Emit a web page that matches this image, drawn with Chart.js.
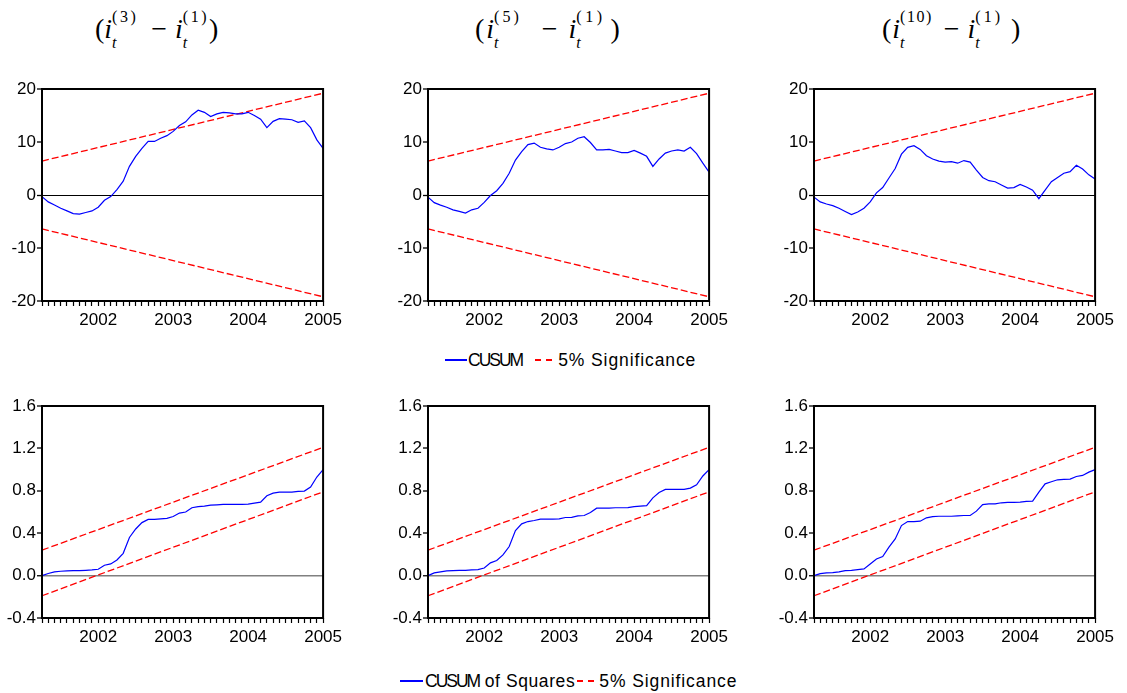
<!DOCTYPE html>
<html>
<head>
<meta charset="utf-8">
<title>CUSUM tests</title>
<script src="https://cdn.jsdelivr.net/npm/chart.js@4.4.1/dist/chart.umd.min.js"></script>
<style>
  html, body { margin: 0; padding: 0; background: #fff; }
  #page { position: relative; width: 1127px; height: 693px; overflow: hidden; background: #fff; }
  .panel { position: absolute; }
  .title {
    position: absolute; text-align: left; white-space: nowrap;
    font-family: "Liberation Serif", "Times New Roman", serif; font-size: 28px; line-height: 30px; color: #000;
  }
  .title i { font-style: italic; }
  .ss { display: inline-block; vertical-align: -10px; font-size: 16px; line-height: 26px; text-align: left; }
  .ss span { display: block; }
  .ss .sb { font-style: italic; letter-spacing: 0; }
  .legend {
    position: absolute; display: flex; align-items: center; white-space: nowrap; height: 20px;
    font-family: "Liberation Sans", Arial, sans-serif; font-size: 17.5px; color: #000;
  }
  .tight { letter-spacing: -2px; }
  .wide { letter-spacing: 0.9px; }
  .smp { display: inline-block; height: 1.3px; }
  .smp.solid { background: #0000ff; }
  .smp.dash { background: repeating-linear-gradient(to right, #ff0000 0 6px, transparent 6px 11px); }
</style>
</head>
<body>
<div id="page">
  <div class="title" style="left:95px; top:4px;">(<i>i</i><span class="ss" style="letter-spacing:2.5px;"><span>(3)</span><span class="sb">t</span></span><span style="margin-left:13px; margin-right:8px;">&minus;</span><i>i</i><span class="ss" style="letter-spacing:2.5px;"><span>(1)</span><span class="sb">t</span></span>)</div>
  <div class="title" style="left:475px; top:4px;">(<i style="margin-left:2px;">i</i><span class="ss" style="letter-spacing:3px;"><span>(5)</span><span class="sb">t</span></span><span style="margin-left:20px; margin-right:11px;">&minus;</span><i>i</i><span class="ss" style="letter-spacing:3.5px;"><span>(1)</span><span class="sb">t</span></span><span style="margin-left:5px;">)</span></div>
  <div class="title" style="left:882px; top:4px;">(<i style="margin-left:1px;">i</i><span class="ss" style="letter-spacing:1.5px;"><span>(10)</span><span class="sb">t</span></span><span style="margin-left:11px; margin-right:8px;">&minus;</span><i>i</i><span class="ss" style="letter-spacing:3px;"><span>(1)</span><span class="sb">t</span></span><span style="margin-left:8px;">)</span></div>

  <div class="panel" id="p0"><canvas></canvas></div>
  <div class="panel" id="p1"><canvas></canvas></div>
  <div class="panel" id="p2"><canvas></canvas></div>
  <div class="panel" id="p3"><canvas></canvas></div>
  <div class="panel" id="p4"><canvas></canvas></div>
  <div class="panel" id="p5"><canvas></canvas></div>

  <div class="legend" style="left:445px; top:350px;">
    <span class="smp solid" style="width:22px; margin-right:1px;"></span><span class="tight">CUSUM</span>
    <span class="smp dash" style="width:17px; margin-left:13px; margin-right:6px;"></span><span class="wide">5% Significance</span>
  </div>
  <div class="legend" style="left:400px; top:671px;">
    <span class="smp solid" style="width:23px; margin-right:2px;"></span><span><span class="tight">CUSUM</span><span style="letter-spacing:0.6px;"> of Squares</span></span>
    <span class="smp dash" style="width:17px; margin-left:2px; margin-right:5px;"></span><span class="wide">5% Significance</span>
  </div>
</div>

<script>
// Monthly observations of the recursive residual statistics
const months = [
  '2001M04','2001M05','2001M06','2001M07','2001M08','2001M09','2001M10','2001M11','2001M12',
  '2002M01','2002M02','2002M03','2002M04','2002M05','2002M06','2002M07','2002M08','2002M09','2002M10','2002M11','2002M12',
  '2003M01','2003M02','2003M03','2003M04','2003M05','2003M06','2003M07','2003M08','2003M09','2003M10','2003M11','2003M12',
  '2004M01','2004M02','2004M03','2004M04','2004M05','2004M06','2004M07','2004M08','2004M09','2004M10','2004M11','2004M12',
  '2005M01'
];

// CUSUM statistics
const cusum3 = [-0.3,-1.3,-1.9,-2.5,-3.0,-3.5,-3.6,-3.3,-3.0,-2.3,-1.0,-0.3,1.0,2.6,5.4,7.3,8.8,10.1,10.1,10.7,11.2,12.0,13.1,13.8,15.1,16.0,15.6,14.8,15.3,15.6,15.5,15.3,15.3,15.6,15.0,14.3,12.7,13.9,14.4,14.3,14.2,13.7,14.0,12.7,10.4,8.8];
const cusum5 = [-0.4,-1.45,-1.9,-2.3,-2.8,-3.1,-3.4,-2.8,-2.5,-1.4,-0.1,0.8,2.2,4.1,6.6,8.2,9.5,9.8,9.0,8.7,8.5,9.0,9.7,10.0,10.7,11.0,9.9,8.5,8.5,8.6,8.3,8.0,8.0,8.4,7.9,7.3,5.4,6.8,7.9,8.3,8.5,8.3,9.0,7.8,6.0,4.3];
const cusum10 = [-0.4,-1.3,-1.7,-2.0,-2.5,-3.1,-3.7,-3.2,-2.5,-1.3,0.4,1.4,3.2,5.0,7.7,9.0,9.3,8.6,7.4,6.8,6.4,6.2,6.3,6.0,6.5,6.2,4.7,3.3,2.7,2.5,1.9,1.3,1.4,2.0,1.5,0.9,-0.7,0.9,2.5,3.3,4.1,4.4,5.6,4.9,3.8,3.0];

// CUSUM of squares statistics
const cusumSq3 = [0,0.02,0.035,0.041,0.044,0.047,0.047,0.05,0.054,0.06,0.098,0.11,0.148,0.21,0.36,0.44,0.50,0.53,0.53,0.535,0.54,0.557,0.59,0.60,0.64,0.65,0.655,0.665,0.668,0.671,0.671,0.671,0.671,0.674,0.683,0.693,0.753,0.778,0.787,0.787,0.787,0.794,0.797,0.835,0.93,1.0];
const cusumSq5 = [0,0.025,0.035,0.044,0.047,0.05,0.05,0.054,0.057,0.072,0.12,0.142,0.195,0.274,0.425,0.488,0.51,0.52,0.532,0.532,0.532,0.535,0.548,0.55,0.564,0.567,0.595,0.636,0.636,0.636,0.64,0.64,0.642,0.65,0.655,0.66,0.734,0.784,0.813,0.813,0.813,0.813,0.825,0.857,0.94,1.0];
const cusumSq10 = [0,0.019,0.025,0.028,0.035,0.047,0.05,0.057,0.063,0.11,0.157,0.18,0.268,0.346,0.472,0.51,0.51,0.513,0.545,0.557,0.56,0.56,0.56,0.564,0.567,0.567,0.608,0.67,0.677,0.677,0.687,0.69,0.69,0.693,0.70,0.702,0.787,0.866,0.885,0.904,0.907,0.91,0.935,0.945,0.976,1.0];

// 5% significance bounds (straight lines between first and last observation)
const boundMonths = ['2001M04', '2005M01'];
const cusumUpper = [6.4, 19.2];
const cusumLower = [-6.4, -19.2];
const sqUpper = [0.24, 1.21];
const sqLower = [-0.19, 0.79];

// Axis tick values
const cusumTicks = [-20, -10, 0, 10, 20];
const sqTicks = [-0.4, 0.0, 0.4, 0.8, 1.2, 1.6];

// Layout of the six plot areas
const colLeft = [42, 428, 814];
const rowTop = [89, 406];
const plotW = 282, plotH = 212;
const Y_W = 40, X_H = 32, PAD_T = 12, PAD_R = 22;

const FONT = { family: '"Liberation Sans", Arial, sans-serif', size: 17 };

const framePlugin = {
  id: 'frame',
  afterDatasetsDraw(chart) {
    const { ctx, chartArea: a } = chart;
    ctx.save();
    ctx.strokeStyle = '#000';
    ctx.lineWidth = 2;
    ctx.strokeRect(a.left, a.top, a.right - a.left, a.bottom - a.top);
    ctx.restore();
  }
};

function boundData(vals) {
  return boundMonths.map((m, k) => ({ x: m, y: vals[k] }));
}

function makePanel(idx, col, row, series, upper, lower, ticks, decimals, zeroColor, zeroWidth) {
  const box = document.getElementById('p' + idx);
  box.style.left = (colLeft[col] - Y_W) + 'px';
  box.style.top = (rowTop[row] - PAD_T) + 'px';
  box.style.width = (Y_W + plotW + PAD_R) + 'px';
  box.style.height = (PAD_T + plotH + X_H) + 'px';

  new Chart(box.querySelector('canvas'), {
    type: 'line',
    data: {
      labels: months,
      datasets: [
        { data: series, borderColor: '#0000ff', borderWidth: 1.2, pointRadius: 0, tension: 0, fill: false },
        { data: boundData(upper), borderColor: '#ff0000', borderWidth: 1.3, borderDash: [7, 3], pointRadius: 0, fill: false },
        { data: boundData(lower), borderColor: '#ff0000', borderWidth: 1.3, borderDash: [7, 3], pointRadius: 0, fill: false }
      ]
    },
    options: {
      responsive: true,
      maintainAspectRatio: false,
      animation: false,
      events: [],
      layout: { padding: { top: PAD_T, right: PAD_R, left: 0, bottom: 0 } },
      plugins: { legend: { display: false }, tooltip: { enabled: false } },
      scales: {
        x: {
          type: 'category',
          offset: false,
          border: { display: false },
          grid: { drawOnChartArea: false, drawTicks: true, tickLength: 5, tickColor: '#000', tickWidth: 1.2 },
          ticks: {
            autoSkip: false, maxRotation: 0, minRotation: 0, padding: 4,
            color: '#000', font: FONT,
            callback: (v, i) => months[i].endsWith('M01') ? months[i].slice(0, 4) : ''
          },
          afterFit: s => { s.height = X_H; }
        },
        y: {
          min: ticks[0],
          max: ticks[ticks.length - 1],
          border: { display: false },
          afterBuildTicks: s => { s.ticks = ticks.map(v => ({ value: v })); },
          grid: {
            drawOnChartArea: true, drawTicks: true, tickLength: 5, tickColor: '#000', tickWidth: 1.3,
            color: c => (c.tick && Math.abs(c.tick.value) < 1e-9) ? zeroColor : 'rgba(0,0,0,0)',
            lineWidth: c => (c.tick && Math.abs(c.tick.value) < 1e-9) ? zeroWidth : 0
          },
          ticks: {
            padding: 1, color: '#000', font: FONT,
            callback: v => Number(v).toFixed(decimals)
          },
          afterFit: s => { s.width = Y_W; }
        }
      }
    },
    plugins: [framePlugin]
  });
}

makePanel(0, 0, 0, cusum3, cusumUpper, cusumLower, cusumTicks, 0, '#000000', 1);
makePanel(1, 1, 0, cusum5, cusumUpper, cusumLower, cusumTicks, 0, '#000000', 1);
makePanel(2, 2, 0, cusum10, cusumUpper, cusumLower, cusumTicks, 0, '#000000', 1);
makePanel(3, 0, 1, cusumSq3, sqUpper, sqLower, sqTicks, 1, '#808080', 1.5);
makePanel(4, 1, 1, cusumSq5, sqUpper, sqLower, sqTicks, 1, '#808080', 1.5);
makePanel(5, 2, 1, cusumSq10, sqUpper, sqLower, sqTicks, 1, '#808080', 1.5);
</script>
</body>
</html>
